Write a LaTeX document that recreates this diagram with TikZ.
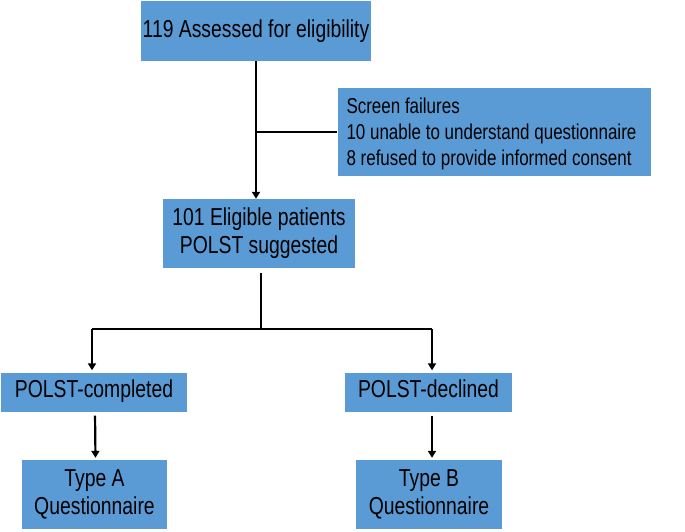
\documentclass[tikz,border=0pt]{standalone}
\usepackage{fontspec}
\setmainfont[FakeStretch=0.79]{Liberation Sans}
\usetikzlibrary{arrows.meta}
\definecolor{boxblue}{HTML}{5B9BD5}
\begin{document}
\begin{tikzpicture}[x=1pt,y=-1pt,
  box/.style={fill=boxblue,inner sep=0pt,align=center,font=\fontsize{24.5}{28}\selectfont},
  conn/.style={line width=2.2pt,draw=black},
  arr/.style={conn,-{Triangle[width=8pt,length=7pt]}}]
\useasboundingbox (0,0) rectangle (685,531);
\node[box,minimum width=230pt,minimum height=60pt] (b1) at (256,31) {119 Assessed for eligibility};
\node[box,minimum width=313pt,minimum height=88pt] (b2) at (494,132) {};
\node[anchor=west,inner sep=0pt,align=left,font=\fontsize{21.5}{26}\selectfont] (b2t) at ([xshift=9pt,yshift=-2pt]b2.west) {Screen failures\\10 unable to understand questionnaire\\8 refused to provide informed consent};
\node[box,minimum width=192pt,minimum height=69pt] (b3) at (259,233.5) {101 Eligible patients\\POLST suggested};
\node[box,minimum width=186pt,minimum height=39pt] (b4) at (94,392) {\strut POLST-completed};
\node[box,minimum width=167pt,minimum height=39pt] (b5) at (428.5,392) {\strut POLST-declined};
\node[box,minimum width=145pt,minimum height=69pt] (b6) at (94.5,494.5) {Type A\\Questionnaire};
\node[box,minimum width=146pt,minimum height=69pt] (b7) at (429,494.5) {Type B\\Questionnaire};
\coordinate (j) at (261,329);
\coordinate (jl) at (92,329);
\coordinate (jr) at (432,329);
\draw[arr] (b1.south) -- (b1.south |- b3.north);
\draw[conn] (b2.west) -- (b2.west -| b1.south);
\draw[conn,shorten <=5pt] (b3.south -| j) -- (j);
\draw[conn] (jl) -- (jr);
\draw[arr,shorten >=2pt] (jl) -- (jl |- b4.north);
\draw[arr,shorten >=2pt] (jr) -- (jr |- b5.north);
\draw[arr,shorten <=4pt,shorten >=2pt] ([xshift=1pt]b4.south) -- ([xshift=1pt]b6.north);
\draw[arr,shorten <=4pt,shorten >=2pt] ([xshift=3.5pt]b5.south) -- ([xshift=3.5pt]b5.south |- b7.north);
\end{tikzpicture}
\end{document}
